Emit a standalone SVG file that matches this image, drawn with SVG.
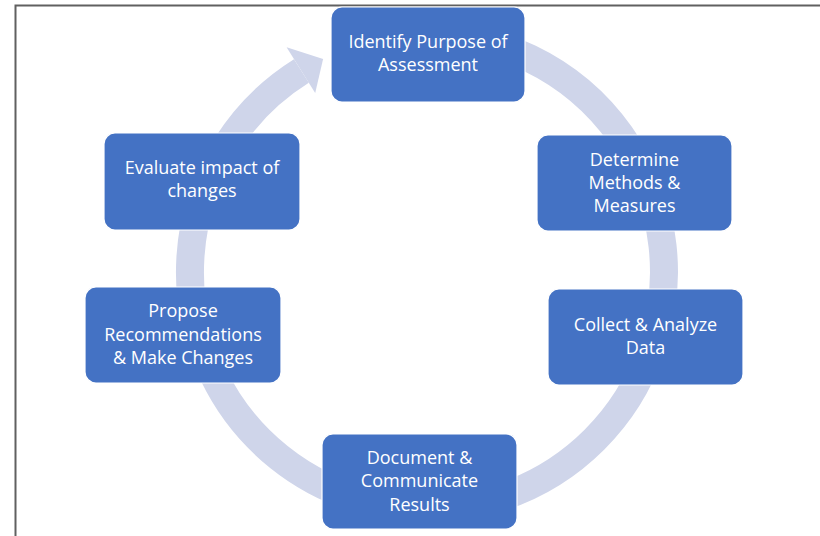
<svg xmlns="http://www.w3.org/2000/svg" width="820" height="536" viewBox="0 0 820 536">
  <style>
    .frame { stroke: #606060; stroke-width: 2; fill: none; }
    .ring { fill: none; stroke: #CFD5EA; stroke-width: 28; }
    .head { fill: #CFD5EA; }
    .box { fill: #4472C4; stroke: #ffffff; stroke-width: 1.2; }
    .label { fill: #ffffff; font-family: "Open Sans", "Liberation Sans", sans-serif; font-size: 18px; text-anchor: middle; }
  </style>

  <rect x="0" y="0" width="820" height="536" fill="#ffffff"/>

  <!-- page frame -->
  <path class="frame" d="M15.5,536 V5.5 H820"/>

  <!-- cycle arrow -->
  <g id="connectors">
    <path class="ring" d="M427,35 A237,237 0 1,1 301.4,71"/>
    <polygon class="head" points="286.6,47.3 323.1,59 315.2,93.1"/>
  </g>

  <g id="node-identify">
    <rect class="box" x="331" y="7" width="194" height="95" rx="11"/>
    <text class="label" x="428" y="47.5">Identify Purpose of</text>
    <text class="label" x="428" y="71">Assessment</text>
  </g>

  <g id="node-determine">
    <rect class="box" x="537" y="135" width="195" height="96" rx="11"/>
    <text class="label" x="634.5" y="165.5">Determine</text>
    <text class="label" x="634.5" y="188.5">Methods &amp;</text>
    <text class="label" x="634.5" y="211.5">Measures</text>
  </g>

  <g id="node-collect">
    <rect class="box" x="548" y="289" width="195" height="96" rx="11"/>
    <text class="label" x="645.5" y="330.5">Collect &amp; Analyze</text>
    <text class="label" x="645.5" y="353.5">Data</text>
  </g>

  <g id="node-document">
    <rect class="box" x="322" y="434" width="195" height="95" rx="11"/>
    <text class="label" x="419.5" y="463.5">Document &amp;</text>
    <text class="label" x="419.5" y="487">Communicate</text>
    <text class="label" x="419.5" y="510.5">Results</text>
  </g>

  <g id="node-propose">
    <rect class="box" x="85" y="287" width="196" height="96" rx="11"/>
    <text class="label" x="183" y="317">Propose</text>
    <text class="label" x="183" y="340.5">Recommendations</text>
    <text class="label" x="183" y="363.5">&amp; Make Changes</text>
  </g>

  <g id="node-evaluate">
    <rect class="box" x="104" y="133" width="196" height="97" rx="11"/>
    <text class="label" x="202" y="174">Evaluate impact of</text>
    <text class="label" x="202" y="197">changes</text>
  </g>
</svg>
